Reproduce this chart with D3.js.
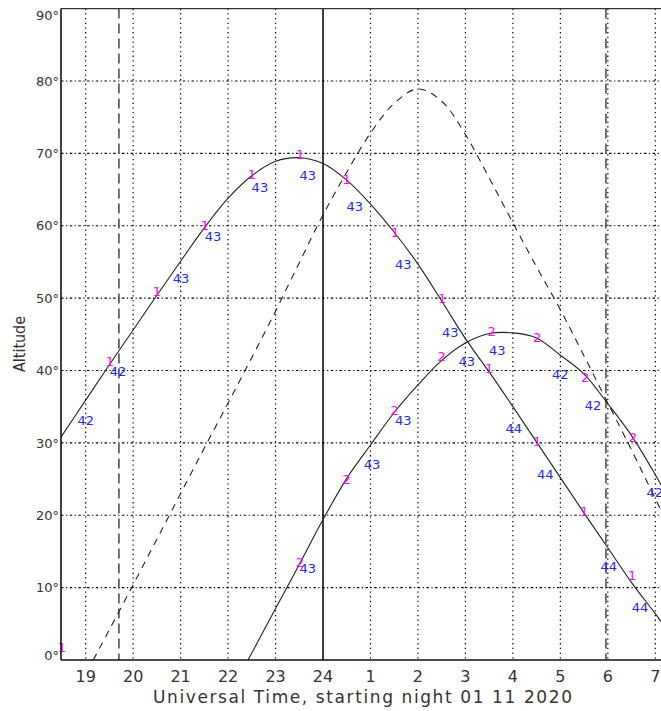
<!DOCTYPE html>
<html>
<head>
<meta charset="utf-8">
<script src="https://cdn.jsdelivr.net/npm/d3@7"></script>
<style>
  body { margin: 0; background: #fff; }
  text { font-family: "DejaVu Sans", sans-serif; }
</style>
</head>
<body>
<div id="chart"></div>
<script>
// hours after 24 are the next morning (25 = 1h UT)
const hourTicks = [19, 20, 21, 22, 23, 24, 25, 26, 27, 28, 29, 30, 31];
const hourLabels = ["19", "20", "21", "22", "23", "24", "1", "2", "3", "4", "5", "6", "7"];
const altTicks = [0, 10, 20, 30, 40, 50, 60, 70, 80, 90];
const altLabels = ["0°", "10°", "20°", "30°", "40°", "50°", "60°", "70°", "80°", "90°"];

// object 1 (solid)
const obj1Time = [18.48, 19, 19.5, 20, 20.5, 21, 21.5, 22, 22.5, 23, 23.5, 24, 24.5, 25, 25.5, 26, 26.5, 27, 27.5, 28, 28.5, 29, 29.5, 30, 30.5, 31, 31.12];
const obj1Alt = [30.8, 35.9, 40.8, 45.6, 50.4, 55.1, 59.7, 63.8, 66.9, 68.9, 69.4, 68.6, 66.3, 63.0, 59.1, 54.7, 49.6, 44.4, 39.8, 35.0, 30.1, 25.2, 20.3, 15.5, 10.7, 6.4, 5.3];

// object 2 (solid)
const obj2Time = [22.42, 23, 23.5, 24, 24.5, 25, 25.5, 26, 26.5, 27, 27.5, 28, 28.5, 29, 29.5, 30, 30.5, 31, 31.12];
const obj2Alt = [0, 7.1, 13.2, 19.4, 25.1, 29.7, 34.2, 38.0, 41.4, 43.8, 45.1, 45.2, 44.5, 42.1, 39.5, 35.4, 31.0, 25.6, 24.2];

// dashed track
const trackTime = [19.16, 19.5, 20, 20.5, 21, 21.5, 22, 22.5, 23, 23.5, 24, 24.5, 25, 25.5, 26, 26.5, 27, 27.5, 28, 28.5, 29, 29.5, 30, 30.5, 31, 31.12];
const trackAlt = [0, 4.2, 10.4, 16.7, 23.0, 29.3, 35.5, 41.8, 48.2, 54.9, 61.5, 67.4, 72.8, 76.9, 78.9, 77.2, 72.6, 66.6, 60.4, 54.3, 48.4, 42.0, 35.5, 29.0, 22.3, 20.7];

// vertical markers: twilight, midnight, twilight
const markerTime = [19.70, 24, 29.96];
const markerKind = ["dash", "solid", "dash"];

// magenta tags [time, altitude, text]
const tags1 = [[18.5, 1.7, "1"], [19.51, 41.2, "1"], [20.5, 51, "1"], [21.51, 60, "1"], [22.5, 67.1, "1"],
  [23.51, 69.9, "1"], [24.5, 66.4, "1"], [25.52, 59.1, "1"], [26.51, 50, "1"], [27.5, 40.3, "1"],
  [28.51, 30.2, "1"], [29.5, 20.6, "1"], [30.51, 11.7, "1"]];
const tags2 = [[23.51, 13.5, "2"], [24.5, 24.9, "2"], [25.51, 34.5, "2"], [26.5, 41.9, "2"],
  [27.55, 45.4, "2"], [28.51, 44.6, "2"], [29.52, 39.1, "2"], [30.53, 30.8, "2"]];

// blue tags [time, altitude, text]
const blueTags1 = [[19.0, 33.1, "42"], [19.68, 39.9, "42"], [21.01, 52.8, "43"], [21.68, 58.6, "43"],
  [22.67, 65.3, "43"], [23.68, 67.0, "43"], [24.67, 62.7, "43"], [25.69, 54.7, "43"], [26.68, 45.3, "43"],
  [28.02, 32.0, "44"], [28.68, 25.7, "44"], [30.02, 13.0, "44"], [30.68, 7.3, "44"]];
const blueTags2 = [[23.68, 12.7, "43"], [25.03, 27.1, "43"], [25.69, 33.1, "43"], [27.03, 41.3, "43"],
  [27.67, 42.8, "43"], [29.0, 39.5, "42"], [29.69, 35.2, "42"], [30.99, 23.1, "42"]];

const width = 661, height = 711;
const padLeft = 61, padTop = 8.6, plotBottom = 660, plotRight = 661;

const svg = d3.select("#chart")
  .append("svg")
  .attr("width", width)
  .attr("height", height);

const x = d3.scaleLinear()
  .domain([18.48, 31.12])
  .range([padLeft, plotRight]);

const y = d3.scaleLinear()
  .domain([0, 90])
  .range([plotBottom, padTop]);

svg.append("clipPath")
  .attr("id", "plot")
  .append("rect")
  .attr("x", padLeft)
  .attr("y", padTop)
  .attr("width", plotRight - padLeft)
  .attr("height", plotBottom - padTop);

// grid
svg.append("g")
  .selectAll("line")
  .data(hourTicks.filter(h => h !== 24))
  .enter()
  .append("line")
  .attr("x1", d => x(d)).attr("x2", d => x(d))
  .attr("y1", padTop).attr("y2", plotBottom)
  .attr("stroke", "#000")
  .attr("stroke-width", 1.2)
  .attr("stroke-dasharray", "1.3,3.4");

svg.append("g")
  .selectAll("line")
  .data(altTicks.filter(a => a > 0 && a < 90))
  .enter()
  .append("line")
  .attr("x1", padLeft).attr("x2", plotRight)
  .attr("y1", d => y(d)).attr("y2", d => y(d))
  .attr("stroke", "#000")
  .attr("stroke-width", 1.2)
  .attr("stroke-dasharray", "2.5,2.5,1.2,2.5");

// vertical markers
svg.append("g")
  .selectAll("line")
  .data(markerTime)
  .enter()
  .append("line")
  .attr("x1", d => x(d)).attr("x2", d => x(d))
  .attr("y1", padTop).attr("y2", plotBottom)
  .attr("stroke", (d, i) => markerKind[i] === "solid" ? "#000" : "#444")
  .attr("stroke-width", 1.5)
  .attr("stroke-dasharray", (d, i) => markerKind[i] === "solid" ? null : "10,5");

const plot = svg.append("g").attr("clip-path", "url(#plot)");

const line = d3.line()
  .x(d => x(d[0]))
  .y(d => y(d[1]))
  .curve(d3.curveCatmullRom.alpha(0.5));

plot.append("path")
  .datum(d3.zip(trackTime, trackAlt))
  .attr("fill", "none")
  .attr("stroke", "#222")
  .attr("stroke-width", 1.1)
  .attr("stroke-dasharray", "7,6")
  .attr("d", line);

[d3.zip(obj1Time, obj1Alt), d3.zip(obj2Time, obj2Alt)].forEach(pts => {
  plot.append("path")
    .datum(pts)
    .attr("fill", "none")
    .attr("stroke", "#222")
    .attr("stroke-width", 1.1)
    .attr("d", line);
});

// tags
svg.append("g")
  .selectAll("text")
  .data(tags1.concat(tags2))
  .enter()
  .append("text")
  .attr("x", d => x(d[0]))
  .attr("y", d => y(d[1]))
  .attr("dy", "0.36em")
  .attr("text-anchor", "middle")
  .attr("font-size", 13)
  .attr("fill", "#ff00ff")
  .text(d => d[2]);

svg.append("g")
  .selectAll("text")
  .data(blueTags1.concat(blueTags2))
  .enter()
  .append("text")
  .attr("x", d => x(d[0]))
  .attr("y", d => y(d[1]))
  .attr("dy", "0.36em")
  .attr("text-anchor", "middle")
  .attr("font-size", 13)
  .attr("fill", "#2525ff")
  .text(d => d[2]);

// frame
svg.append("line")
  .attr("x1", padLeft).attr("x2", padLeft)
  .attr("y1", padTop).attr("y2", plotBottom)
  .attr("stroke", "#111").attr("stroke-width", 1.6);
svg.append("line")
  .attr("x1", padLeft).attr("x2", plotRight)
  .attr("y1", plotBottom).attr("y2", plotBottom)
  .attr("stroke", "#111").attr("stroke-width", 1.6);
svg.append("line")
  .attr("x1", padLeft).attr("x2", plotRight)
  .attr("y1", padTop).attr("y2", padTop)
  .attr("stroke", "#333").attr("stroke-width", 1.2);

// y tick labels (end ones kept inside the frame)
svg.append("g")
  .selectAll("text")
  .data(altTicks)
  .enter()
  .append("text")
  .attr("x", padLeft - 2)
  .attr("y", d => Math.min(Math.max(y(d), padTop + 7), plotBottom - 5))
  .attr("dy", "0.36em")
  .attr("text-anchor", "end")
  .attr("font-size", 13)
  .attr("fill", "#333")
  .text((d, i) => altLabels[i]);

// x tick labels
svg.append("g")
  .selectAll("text")
  .data(hourTicks)
  .enter()
  .append("text")
  .attr("x", d => x(d))
  .attr("y", 682)
  .attr("text-anchor", "middle")
  .attr("font-size", 16)
  .attr("fill", "#333")
  .text((d, i) => hourLabels[i]);

svg.append("text")
  .attr("x", 153)
  .attr("y", 703)
  .attr("font-size", 17)
  .attr("fill", "#333")
  .attr("textLength", 419)
  .attr("lengthAdjust", "spacing")
  .text("Universal Time, starting night 01 11 2020");

svg.append("text")
  .attr("transform", "translate(25,372) rotate(-90)")
  .attr("font-size", 16)
  .attr("fill", "#333")
  .attr("textLength", 56)
  .attr("lengthAdjust", "spacingAndGlyphs")
  .text("Altitude");
</script>
</body>
</html>
